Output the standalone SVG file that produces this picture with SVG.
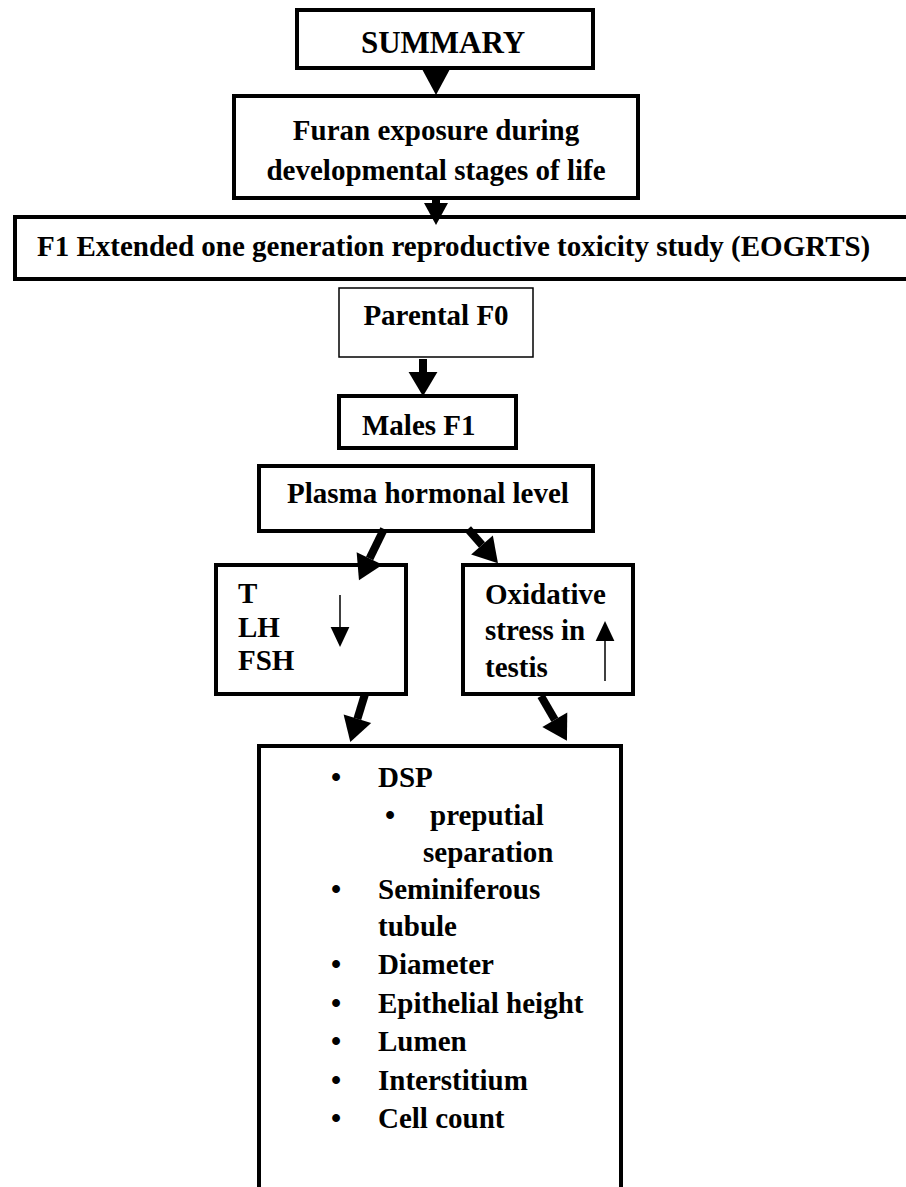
<svg xmlns="http://www.w3.org/2000/svg" width="906" height="1187" viewBox="0 0 906 1187">
<defs>
<style>
.box{fill:#fff;stroke:#000;stroke-width:4}
.thin{fill:#fff;stroke:#000;stroke-width:1.5}
text{font-family:"Liberation Serif","Times New Roman",serif;font-weight:bold;fill:#000;font-size:29px}
.c{text-anchor:middle}
.thick{stroke:#000;stroke-width:8;fill:none}
.tl{stroke:#000;stroke-width:1.5;fill:none}
</style>
<marker id="ah" markerUnits="userSpaceOnUse" markerWidth="30" markerHeight="30" viewBox="0 -13 21 26" refX="0" refY="0" orient="auto">
<path d="M0,-12.5 L21,0 L0,12.5 Z" fill="#000"/>
</marker>
<marker id="ahs" markerUnits="userSpaceOnUse" markerWidth="20" markerHeight="20" viewBox="0 -8 16 16" refX="0" refY="0" orient="auto">
<path d="M0,-7.5 L16,0 L0,7.5 Z" fill="#000"/>
</marker>
</defs>
<rect width="906" height="1187" fill="#fff"/>
<g id="summary">
<rect class="box" x="297" y="10" width="296" height="58"/>
<text class="c" x="443" y="53" style="font-size:31px">SUMMARY</text>
</g>
<g id="furan">
<rect class="box" x="234" y="96" width="404" height="102"/>
<text class="c" x="436" y="140">Furan exposure during</text>
<text class="c" x="436" y="180">developmental stages of life</text>
</g>
<g id="f1">
<rect class="box" x="15" y="217" width="900" height="62"/>
<text x="37" y="256">F1 Extended one generation reproductive toxicity study (EOGRTS)</text>
</g>
<g id="parental">
<rect class="thin" x="339" y="288" width="194" height="69"/>
<text class="c" x="436" y="325">Parental F0</text>
</g>
<g id="males">
<rect class="box" x="339" y="396" width="177" height="52"/>
<text x="362" y="435">Males F1</text>
</g>
<g id="plasma">
<rect class="box" x="259" y="466" width="334" height="65"/>
<text x="287" y="503">Plasma hormonal level</text>
</g>
<g id="hormones">
<rect class="box" x="216" y="565" width="190" height="129"/>
<text x="238" y="603">T</text>
<text x="238" y="637">LH</text>
<text x="238" y="670">FSH</text>
<line class="tl" x1="340" y1="595" x2="340" y2="627" marker-end="url(#ahs)"/>
</g>
<g id="oxidative">
<rect class="box" x="463" y="565" width="170" height="129"/>
<text x="485" y="604">Oxidative</text>
<text x="485" y="640">stress in</text>
<text x="485" y="677">testis</text>
<line class="tl" x1="605" y1="681" x2="605" y2="641" marker-end="url(#ahs)"/>
</g>
<g id="outcomes">
<path d="M259,1200 V746 H621 V1200" fill="#fff" stroke="#000" stroke-width="4"/>
<text class="c" x="336" y="787">•</text><text x="378" y="787">DSP</text>
<text class="c" x="390" y="825">•</text><text x="430" y="825">preputial</text>
<text x="423" y="862">separation</text>
<text class="c" x="336" y="899">•</text><text x="378" y="899">Seminiferous</text>
<text x="378" y="936">tubule</text>
<text class="c" x="336" y="974">•</text><text x="378" y="974">Diameter</text>
<text class="c" x="336" y="1013">•</text><text x="378" y="1013">Epithelial height</text>
<text class="c" x="336" y="1051">•</text><text x="378" y="1051">Lumen</text>
<text class="c" x="336" y="1090">•</text><text x="378" y="1090">Interstitium</text>
<text class="c" x="336" y="1128">•</text><text x="378" y="1128">Cell count</text>
</g>
<g id="connectors">
<path d="M422,69 L450,69 L436,95 Z" fill="#000"/>
<rect x="432" y="198" width="8" height="6" fill="#000"/>
<path d="M424,203 L448,203 L436,225 Z" fill="#000"/>
<line class="thick" x1="423" y1="359" x2="423" y2="372" marker-end="url(#ah)"/>
<line class="thick" x1="384" y1="529" x2="369.6" y2="558.5" marker-end="url(#ah)"/>
<line class="thick" x1="468" y1="529" x2="482" y2="545" marker-end="url(#ah)"/>
<line class="thick" x1="365" y1="694" x2="357.4" y2="718.8" marker-end="url(#ah)"/>
<line class="thick" x1="541" y1="696" x2="554.8" y2="719.8" marker-end="url(#ah)"/>
</g>
</svg>
